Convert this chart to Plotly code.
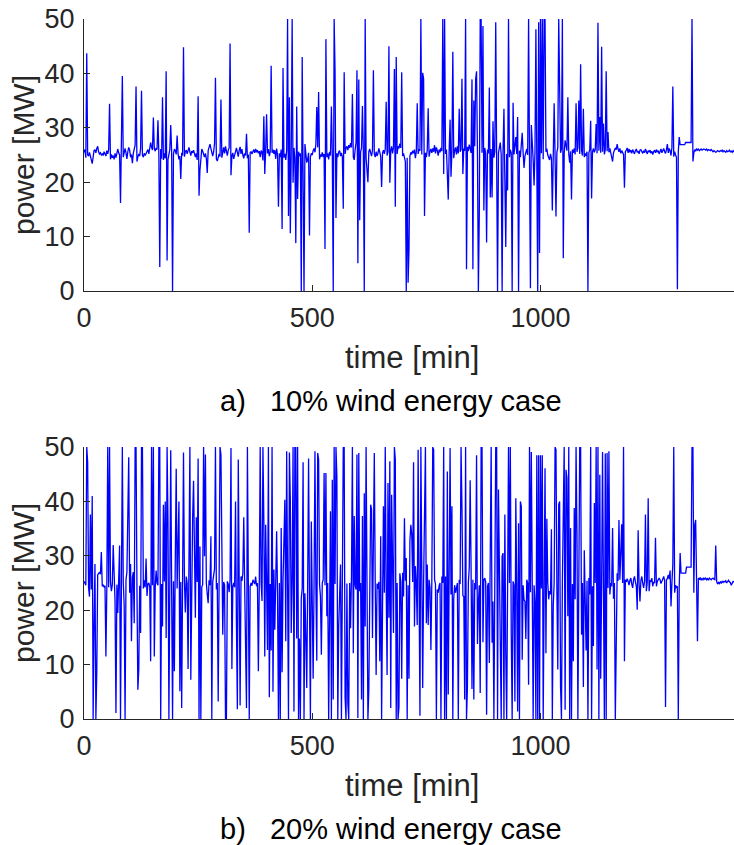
import plotly.graph_objects as go

# sampling step of the series (minutes)
step_min = 2

# a) 10% wind energy case – power [MW], one value every 2 min from t=0
power_a = [
    25.5, 26.0, 24.5, 43.7, 25.0, 24.8, 25.5, 24.6, 24.2, 23.4, 24.6, 25.8, 26.0, 25.4, 26.2, 26.6, 25.6, 25.2, 25.4, 25.0,
    25.2, 24.9, 25.6, 25.3, 24.8, 25.8, 25.2, 26.0, 34.4, 24.2, 25.1, 24.5, 24.9, 24.2, 25.3, 24.5, 25.6, 26.1, 25.4, 25.0,
    16.2, 25.5, 39.5, 24.6, 25.8, 26.2, 25.4, 24.3, 25.6, 26.4, 25.9, 24.6, 25.1, 23.5, 25.3, 26.2, 26.8, 37.6, 23.8, 24.6,
    25.2, 24.8, 26.2, 36.8, 25.0, 24.6, 25.3, 24.9, 25.4, 25.8, 26.0, 25.2, 26.1, 27.3, 26.4, 25.9, 31.9, 26.2, 25.7, 26.3,
    26.0, 31.4, 25.2, 4.4, 26.1, 24.3, 35.6, 24.1, 25.3, 24.4, 40.4, 5.6, 24.2, 25.4, 26.0, 30.5, 25.6, 0.0, 25.2, 26.1,
    25.8, 25.1, 28.6, 25.3, 24.2, 24.8, 20.6, 25.4, 24.9, 44.8, 24.7, 25.6, 25.9, 25.2, 26.1, 26.4, 25.6, 24.9, 25.7, 25.4,
    25.9, 25.2, 24.6, 25.3, 24.1, 35.8, 17.5, 22.2, 25.4, 26.1, 25.7, 25.0, 24.6, 25.3, 24.4, 21.7, 25.8, 26.4, 27.0, 26.2,
    25.5, 24.8, 25.6, 27.1, 39.2, 24.3, 23.9, 24.6, 25.2, 24.7, 35.2, 24.5, 25.8, 26.4, 25.3, 26.6, 25.7, 24.9, 25.9, 26.3,
    45.5, 21.3, 24.8, 25.4, 24.3, 25.1, 25.8, 26.3, 25.5, 24.7, 25.9, 26.5, 25.2, 26.1, 25.0, 24.4, 25.3, 24.9, 28.9, 24.4,
    25.1, 10.7, 25.4, 25.6, 25.2, 25.8, 26.0, 25.4, 26.1, 25.5, 25.9, 25.3, 25.7, 24.6, 25.8, 25.5, 24.0, 32.1, 21.5, 25.9,
    32.5, 25.3, 26.1, 24.8, 25.6, 41.4, 25.4, 26.0, 25.2, 25.9, 24.3, 26.2, 25.0, 15.5, 25.3, 24.6, 26.0, 11.4, 41.0, 24.5,
    25.2, 24.1, 25.8, 50.0, 13.8, 35.6, 10.6, 25.4, 50.0, 19.9, 26.3, 24.4, 8.8, 33.9, 16.9, 25.6, 24.8, 25.3, 0.0, 43.0,
    24.6, 0.0, 27.0, 24.5, 23.6, 24.2, 25.4, 10.2, 24.6, 25.3, 25.0, 25.8, 26.2, 25.5, 27.0, 33.8, 26.4, 36.6, 24.2, 25.1,
    24.7, 25.5, 24.6, 25.2, 7.7, 46.3, 24.6, 25.3, 24.2, 25.6, 24.9, 33.9, 25.2, 0.0, 50.0, 40.4, 13.4, 25.3, 24.6, 25.6,
    25.8, 24.8, 25.4, 24.6, 15.1, 40.2, 25.2, 26.3, 26.6, 25.9, 26.8, 26.3, 27.2, 26.4, 36.2, 24.6, 24.1, 26.0, 27.3, 40.6,
    5.1, 38.9, 13.0, 25.6, 26.3, 34.0, 25.8, 0.0, 50.0, 24.5, 20.9, 20.0, 25.6, 26.1, 25.4, 24.8, 25.9, 40.6, 25.2, 24.6,
    25.6, 24.8, 25.3, 26.2, 25.5, 24.7, 19.1, 25.4, 25.9, 25.2, 26.1, 34.8, 24.9, 25.6, 45.0, 19.9, 25.8, 26.6, 25.3, 26.4,
    40.8, 15.5, 43.0, 25.2, 26.6, 26.2, 27.1, 26.3, 40.2, 24.8, 25.3, 24.6, 23.8, 0.0, 24.5, 1.5, 7.5, 24.8, 25.5, 25.1,
    25.8, 25.3, 26.0, 24.4, 25.6, 34.5, 25.2, 26.1, 25.8, 50.0, 25.1, 40.1, 39.0, 13.8, 25.4, 24.6, 25.9, 33.6, 24.7, 25.6,
    26.1, 25.4, 26.2, 25.6, 26.8, 25.3, 26.4, 25.8, 24.9, 26.0, 25.5, 26.3, 25.7, 50.0, 21.5, 50.0, 25.2, 26.0, 21.7, 16.8,
    25.8, 31.5, 21.0, 25.6, 44.0, 24.4, 25.8, 26.4, 25.1, 26.6, 25.3, 33.5, 25.6, 26.0, 39.0, 21.5, 26.2, 25.8, 50.0, 4.0,
    26.5, 25.7, 26.9, 26.2, 25.4, 38.9, 4.0, 35.0, 26.6, 38.9, 40.4, 25.2, 0.0, 14.1, 50.0, 50.0, 25.4, 48.7, 14.8, 26.3,
    25.2, 8.9, 26.0, 25.3, 37.4, 17.2, 26.1, 17.2, 31.2, 24.5, 25.6, 49.4, 8.8, 0.0, 25.4, 26.2, 27.3, 25.0, 0.0, 25.6,
    33.5, 20.4, 8.1, 25.2, 18.5, 50.0, 24.6, 26.0, 25.4, 0.0, 34.6, 25.1, 26.3, 28.3, 25.2, 32.0, 0.0, 25.8, 24.6, 26.2,
    29.1, 25.4, 22.6, 24.8, 25.6, 26.1, 25.0, 50.0, 24.4, 0.5, 30.5, 25.2, 24.1, 19.4, 25.5, 48.1, 25.0, 0.0, 49.4, 7.0,
    50.0, 25.3, 50.0, 24.2, 50.0, 50.0, 25.6, 26.2, 25.0, 24.6, 24.1, 25.2, 24.4, 14.8, 25.5, 34.5, 24.8, 13.7, 25.6, 26.3,
    50.0, 32.2, 25.4, 26.1, 50.0, 6.0, 25.3, 27.7, 26.5, 25.8, 35.6, 25.2, 23.6, 25.7, 16.8, 26.0, 25.4, 26.2, 25.1, 34.5,
    25.6, 26.3, 35.0, 25.2, 41.7, 25.8, 24.9, 33.5, 24.6, 25.3, 24.8, 25.6, 0.0, 25.4, 26.0, 31.3, 17.0, 25.6, 26.2, 25.5,
    26.0, 30.7, 25.3, 49.3, 25.8, 32.0, 25.4, 44.9, 25.6, 30.8, 25.1, 26.0, 40.4, 25.7, 29.2, 25.5, 26.2, 25.3, 24.6, 23.8,
    25.4, 25.9, 26.3, 26.0, 27.0, 26.1, 25.6, 26.2, 25.3, 25.8, 25.4, 25.1, 19.0, 25.6, 25.9, 26.3, 25.4, 26.1, 25.5, 25.9,
    25.3, 26.0, 25.6, 25.2, 25.8, 26.1, 25.5, 25.7, 25.2, 25.9, 26.0, 25.6, 25.3, 25.8, 25.4, 26.1, 25.5, 25.2, 25.8, 25.6,
    25.9, 25.3, 25.7, 25.1, 25.6, 25.9, 25.4, 26.0, 25.5, 25.8, 25.2, 25.7, 26.1, 25.4, 25.9, 26.2, 25.6, 25.3, 26.0, 27.0,
    25.4, 26.2, 25.8, 24.9, 26.4, 37.6, 24.7, 25.6, 25.0, 24.6, 0.3, 25.6, 28.3, 26.9, 26.9, 26.9, 26.9, 26.9, 26.9, 27.3,
    27.3, 27.3, 27.3, 27.3, 27.3, 27.3, 50.0, 23.8, 25.4, 26.0, 25.7, 26.2, 25.9, 26.1, 25.8, 26.0, 26.1, 25.9, 26.0, 26.1,
    26.0, 25.9, 26.1, 25.8, 26.0, 25.9, 25.8, 26.0, 25.7, 25.6, 25.8, 25.7, 25.5, 25.6, 25.8, 25.7, 25.6, 25.8, 25.7, 25.9,
    25.6, 25.8, 25.7, 25.5, 25.8, 25.6, 25.7, 25.9, 25.6, 25.7, 25.5, 25.8, 25.6, 25.7, 25.8, 25.6, 25.7, 25.6, 25.8, 25.7,
]

# b) 20% wind energy case – power [MW], one value every 2 min from t=0
power_b = [
    25.3, 25.0, 24.6, 50.0, 47.2, 24.2, 22.5, 37.6, 23.8, 41.0, 0.0, 17.0, 28.5, 0.0, 8.5, 26.5, 26.8, 27.0, 26.6, 30.7,
    24.4, 24.6, 24.3, 24.5, 11.5, 24.0, 50.0, 24.2, 50.0, 25.2, 23.5, 24.6, 32.0, 23.2, 21.6, 1.1, 24.7, 19.5, 25.4, 31.9,
    0.0, 25.0, 50.0, 25.2, 21.0, 0.0, 25.6, 27.0, 34.6, 48.1, 23.2, 28.5, 14.3, 26.0, 27.0, 17.6, 50.0, 50.0, 24.0, 5.4,
    9.1, 24.5, 15.8, 50.0, 50.0, 24.0, 25.5, 24.2, 29.5, 22.6, 24.8, 25.0, 24.4, 10.6, 50.0, 24.6, 50.0, 11.5, 24.2, 27.3,
    25.0, 24.6, 50.0, 50.0, 0.0, 24.8, 17.0, 39.4, 25.3, 40.0, 14.9, 50.0, 36.3, 0.0, 24.6, 49.4, 24.1, 0.0, 25.3, 8.8,
    29.6, 46.0, 24.0, 35.1, 40.0, 5.1, 25.2, 2.0, 40.4, 49.0, 25.4, 19.6, 26.2, 25.0, 9.2, 25.6, 50.0, 7.2, 25.4, 37.0,
    43.8, 24.8, 18.6, 37.1, 25.2, 47.9, 0.0, 31.7, 0.0, 24.3, 24.7, 50.0, 29.9, 48.6, 25.0, 23.0, 21.3, 25.5, 24.6, 33.6,
    0.0, 25.2, 26.1, 27.6, 50.0, 23.8, 25.0, 3.2, 25.4, 50.0, 48.6, 24.8, 15.5, 25.2, 24.6, 0.0, 0.0, 25.3, 24.8, 23.3,
    25.6, 49.8, 9.2, 24.4, 25.0, 24.2, 40.0, 17.0, 1.8, 47.7, 25.0, 2.5, 26.2, 25.4, 26.8, 37.1, 24.6, 15.5, 2.0, 50.0,
    25.2, 0.0, 24.4, 25.0, 24.5, 25.6, 25.2, 24.8, 26.2, 24.4, 25.0, 8.8, 24.6, 50.0, 25.2, 21.7, 50.0, 36.5, 11.5, 35.7,
    25.0, 12.7, 50.0, 4.0, 24.8, 12.6, 50.0, 5.0, 27.5, 16.4, 25.2, 34.5, 22.9, 0.0, 25.0, 0.0, 35.1, 8.6, 25.4, 33.6,
    40.3, 14.3, 49.2, 25.0, 0.0, 49.0, 40.3, 15.8, 25.2, 50.0, 1.4, 50.0, 50.0, 14.8, 50.0, 0.0, 14.8, 0.0, 22.2, 24.0,
    47.2, 0.0, 23.1, 15.3, 5.7, 25.0, 47.9, 21.3, 0.0, 36.3, 24.6, 7.4, 25.0, 49.2, 24.4, 10.7, 48.9, 47.7, 24.8, 22.5,
    11.8, 25.0, 25.6, 45.2, 24.6, 45.2, 18.9, 25.0, 0.0, 25.2, 38.2, 0.0, 44.0, 3.6, 50.0, 24.8, 50.0, 44.6, 0.0, 17.0,
    25.2, 28.4, 0.0, 25.0, 50.0, 50.0, 3.9, 0.0, 24.9, 2.9, 0.0, 25.0, 16.7, 26.5, 50.0, 12.1, 37.3, 24.6, 23.8, 48.6,
    0.2, 48.9, 23.5, 25.0, 3.6, 37.3, 0.0, 41.5, 17.0, 50.0, 24.8, 0.0, 5.4, 25.2, 39.4, 38.5, 14.9, 32.7, 48.9, 25.0,
    8.1, 24.9, 23.9, 25.2, 10.6, 33.6, 0.0, 20.7, 39.1, 23.2, 50.0, 24.6, 8.1, 43.4, 18.6, 47.4, 2.0, 41.2, 25.0, 15.8,
    50.0, 47.7, 0.0, 25.0, 0.0, 2.2, 26.8, 25.2, 7.4, 26.9, 22.5, 36.9, 25.4, 29.6, 0.0, 24.6, 7.4, 32.7, 35.7, 33.9,
    25.2, 47.2, 17.0, 28.1, 25.0, 17.3, 49.5, 19.8, 0.6, 50.0, 30.5, 5.7, 25.0, 42.3, 50.0, 17.6, 28.4, 17.3, 25.6, 24.1,
    12.7, 25.2, 50.0, 49.5, 25.6, 24.8, 0.0, 23.8, 23.2, 24.5, 25.0, 0.0, 26.2, 25.0, 50.0, 0.0, 26.2, 0.0, 45.5, 4.5,
    25.0, 49.8, 22.9, 39.1, 0.0, 22.2, 24.6, 23.2, 24.1, 25.0, 0.0, 25.6, 24.8, 50.0, 39.1, 22.7, 22.5, 3.6, 50.0, 0.0,
    6.0, 25.0, 27.8, 43.9, 27.8, 5.5, 25.6, 3.6, 25.0, 23.8, 48.5, 13.8, 21.3, 24.6, 4.8, 50.0, 50.0, 14.1, 25.6, 25.9,
    25.2, 0.8, 24.4, 25.0, 10.3, 35.1, 50.0, 14.0, 21.6, 0.0, 26.8, 50.0, 50.0, 0.0, 42.2, 25.0, 11.5, 0.0, 29.9, 30.5,
    0.0, 37.6, 11.8, 0.0, 24.4, 50.0, 25.0, 50.0, 15.8, 0.0, 25.3, 24.6, 3.2, 40.6, 24.8, 1.4, 36.0, 0.0, 40.0, 39.1,
    10.9, 24.6, 21.9, 21.6, 14.7, 25.6, 25.0, 6.3, 50.0, 23.3, 49.1, 22.0, 0.0, 24.6, 21.6, 0.0, 48.5, 0.0, 48.5, 0.0,
    48.5, 24.0, 48.5, 0.0, 22.6, 46.1, 12.1, 36.8, 25.0, 22.0, 23.5, 22.9, 34.9, 0.0, 20.7, 25.0, 50.0, 49.5, 23.8, 9.1,
    39.4, 40.0, 6.0, 0.0, 25.0, 43.1, 50.0, 1.7, 45.8, 44.3, 18.9, 50.0, 0.0, 35.1, 0.0, 24.8, 10.6, 38.8, 22.0, 50.0,
    33.9, 0.0, 25.0, 50.0, 50.0, 15.5, 25.0, 5.9, 31.0, 22.6, 12.6, 25.4, 0.0, 25.9, 22.9, 50.0, 0.0, 24.4, 13.4, 39.7,
    25.0, 50.0, 9.1, 50.0, 0.0, 44.9, 7.4, 25.0, 49.1, 23.8, 0.0, 48.8, 0.0, 48.9, 24.1, 49.2, 22.9, 25.0, 24.4, 35.1,
    22.1, 25.0, 0.0, 13.4, 26.8, 25.4, 36.6, 25.6, 33.9, 35.8, 25.0, 50.0, 10.6, 25.6, 25.2, 25.8, 25.3, 24.6, 25.5, 25.9,
    24.8, 24.1, 25.6, 26.2, 25.2, 24.4, 20.1, 34.7, 25.0, 21.6, 25.4, 26.2, 25.0, 24.1, 25.3, 37.6, 23.5, 25.2, 40.6, 23.5,
    25.4, 25.3, 25.9, 24.4, 25.2, 25.0, 33.3, 24.4, 25.3, 25.6, 25.9, 25.6, 24.9, 25.3, 25.8, 26.2, 25.4, 2.2, 25.6, 25.8,
    26.5, 25.7, 27.3, 20.7, 25.0, 28.4, 50.0, 23.2, 24.6, 24.1, 24.4, 0.0, 24.4, 30.5, 26.8, 26.8, 26.8, 26.8, 26.8, 26.8,
    27.9, 27.9, 27.9, 27.9, 27.9, 27.9, 50.0, 50.0, 23.2, 35.7, 36.6, 22.9, 14.3, 25.9, 25.6, 26.0, 25.5, 25.8, 25.6, 25.9,
    25.7, 25.9, 25.6, 25.8, 25.5, 25.9, 25.7, 25.6, 25.8, 25.9, 25.7, 25.6, 31.9, 25.3, 24.8, 25.1, 24.9, 25.2, 25.0, 25.3,
    25.1, 25.3, 25.2, 25.4, 25.0, 25.3, 25.5, 25.2, 25.1, 24.6, 24.9, 25.3, 25.2, 25.4, 25.1, 25.3, 25.2, 25.4, 25.3, 25.2,
]

time_a = [i * step_min for i in range(len(power_a))]
time_b = [i * step_min for i in range(len(power_b))]

x_ticks = [0, 500, 1000]
y_ticks = [0, 10, 20, 30, 40, 50]
x_label = "time [min]"
y_label = "power [MW]"
captions = ["a)   10% wind energy case", "b)   20% wind energy case"]

W, H = 734, 845
FONT = "Liberation Sans, Arial, Helvetica, sans-serif"
AX = "#262626"


def px_x(p):
    return p / W


def px_y(p):
    return 1 - p / H


fig = go.Figure()
fig.add_trace(go.Scatter(x=time_a, y=power_a, mode="lines",
                         line=dict(color="#0000ff", width=1.3), xaxis="x", yaxis="y",
                         showlegend=False, hoverinfo="skip"))
fig.add_trace(go.Scatter(x=time_b, y=power_b, mode="lines",
                         line=dict(color="#0000ff", width=1.3), xaxis="x2", yaxis="y2",
                         showlegend=False, hoverinfo="skip"))

panels = [(19, 291), (447, 719)]
x_left, x_right = 84, 734

common_x = dict(range=[0, 1424], tickvals=x_ticks, ticks="inside", ticklen=6, tickwidth=1,
                tickcolor=AX, showline=True, linecolor=AX, linewidth=1.3, showgrid=False,
                zeroline=False, mirror=False, tickfont=dict(family=FONT, size=27, color=AX),
                ticklabelstandoff=2, automargin=False,
                domain=[px_x(x_left), px_x(x_right)])
common_y = dict(range=[0, 50], tickvals=y_ticks, ticks="inside", ticklen=6, tickwidth=1,
                tickcolor=AX, showline=True, linecolor=AX, linewidth=1.3, showgrid=False,
                zeroline=False, mirror=False, tickfont=dict(family=FONT, size=27, color=AX),
                ticklabelstandoff=3, automargin=False)

fig.update_layout(
    width=W, height=H, margin=dict(l=0, r=0, t=0, b=0, autoexpand=False),
    paper_bgcolor="white", plot_bgcolor="white",
    xaxis=dict(common_x, anchor="y"),
    yaxis=dict(common_y, anchor="x", domain=[px_y(panels[0][1]), px_y(panels[0][0])]),
    xaxis2=dict(common_x, anchor="y2"),
    yaxis2=dict(common_y, anchor="x2", domain=[px_y(panels[1][1]), px_y(panels[1][0])]),
)

annotations = []
for (top, bot), cap in zip(panels, captions):
    annotations.append(dict(text=y_label, x=px_x(23), y=px_y((top + bot) / 2), xref="paper", yref="paper",
                            textangle=-90, showarrow=False, xanchor="center", yanchor="middle",
                            font=dict(family=FONT, size=30, color=AX)))
    annotations.append(dict(text=x_label, x=px_x(412), y=px_y(bot + 66), xref="paper", yref="paper",
                            showarrow=False, xanchor="center", yanchor="middle",
                            font=dict(family=FONT, size=31, color=AX)))
    annotations.append(dict(text=cap, x=px_x(391), y=px_y(bot + 110), xref="paper", yref="paper",
                            showarrow=False, xanchor="center", yanchor="middle",
                            font=dict(family=FONT, size=29, color="#000000")))
fig.update_layout(annotations=annotations)

fig.write_html("out.html")
